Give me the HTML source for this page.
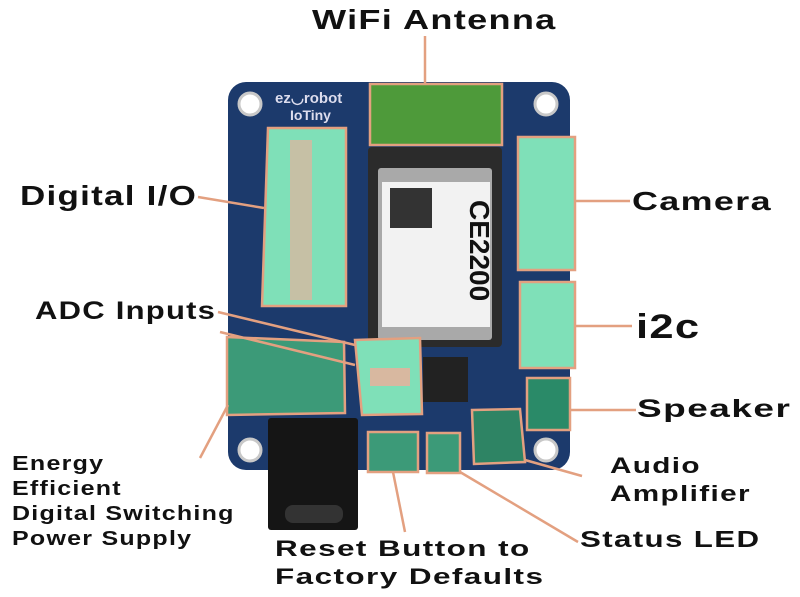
<!DOCTYPE html>
<html><head><style>
body{margin:0;width:800px;height:597px;background:#fff;position:relative;overflow:hidden;font-family:"Liberation Sans",sans-serif;}
.t{position:absolute;font-weight:bold;color:#111;white-space:nowrap;letter-spacing:1px;transform-origin:0 0}
</style></head><body>
<svg width="800" height="597" style="position:absolute;left:0;top:0">
<rect x="228" y="82" width="342" height="388" rx="18" fill="#1c3a6c"/>
<circle cx="250" cy="104" r="11" fill="#fff" stroke="#c8c8c8" stroke-width="3"/>
<circle cx="546" cy="104" r="11" fill="#fff" stroke="#c8c8c8" stroke-width="3"/>
<circle cx="250" cy="450" r="11" fill="#fff" stroke="#c8c8c8" stroke-width="3"/>
<circle cx="546" cy="450" r="11" fill="#fff" stroke="#c8c8c8" stroke-width="3"/>
<rect x="368" y="147" width="134" height="200" rx="4" fill="#2b2b2b"/>
<rect x="378" y="168" width="114" height="172" rx="3" fill="#a9a9a9"/>
<rect x="382" y="182" width="108" height="145" fill="#f2f2f2"/>
<rect x="390" y="188" width="42" height="40" fill="#333"/>
<text x="470" y="200" transform="rotate(90 470 200)" font-family="Liberation Sans" font-size="28" font-weight="bold" fill="#111">CE2200</text>
<rect x="268" y="418" width="90" height="112" rx="3" fill="#151515"/>
<rect x="285" y="505" width="58" height="18" rx="8" fill="#333"/>
<text x="275" y="103" font-size="15" font-weight="bold" fill="#dde">ez◡robot</text>
<text x="290" y="120" font-size="14" font-weight="bold" fill="#dde">IoTiny</text>
<rect x="423" y="357" width="45" height="45" fill="#222"/>
<rect x="475" y="412" width="45" height="50" fill="#1e5a4a"/>
<g fill="#7fe0b8" stroke="#e3a080" stroke-width="2.5">
<rect x="370" y="84" width="132" height="61" fill="#4e9a3a"/>
<polygon points="268,128 346,128 346,306 262,306"/>
<rect x="518" y="137" width="57" height="133"/>
<rect x="520" y="282" width="55" height="86"/>
<rect x="527" y="378" width="43" height="52" fill="#2a8a68"/>
<polygon points="355,340 420,338 422,414 362,415"/>
<polygon points="227,337 344,342 345,413 227,415" fill="#3c9a78"/>
<rect x="368" y="432" width="50" height="40" fill="#3c9a78"/>
<rect x="427" y="433" width="33" height="40" fill="#3c9a78"/>
<polygon points="472,410 520,409 525,462 474,464" fill="#2e8464"/>
</g>
<g fill="#d8b8a0">
<rect x="290" y="140" width="22" height="160" opacity="0.8"/>
<rect x="370" y="368" width="40" height="18"/>
</g>
<g stroke="#e3a080" stroke-width="2.5" fill="none">
<line x1="425" y1="36" x2="425" y2="84"/>
<line x1="198" y1="197" x2="264" y2="208"/>
<line x1="575" y1="201" x2="630" y2="201"/>
<line x1="575" y1="326" x2="632" y2="326"/>
<line x1="570" y1="410" x2="636" y2="410"/>
<line x1="218" y1="312" x2="355" y2="345"/>
<line x1="220" y1="332" x2="355" y2="365"/>
<line x1="228" y1="405" x2="200" y2="458"/>
<line x1="393" y1="472" x2="405" y2="532"/>
<line x1="460" y1="472" x2="578" y2="542"/>
<line x1="525" y1="460" x2="582" y2="476"/>
</g>
</svg>
<div class="t" style="left:312px;top:4px;font-size:28px;transform:scaleX(1.29)">WiFi Antenna</div>
<div class="t" style="left:20px;top:180px;font-size:28px;transform:scaleX(1.25)">Digital I/O</div>
<div class="t" style="left:632px;top:186px;font-size:26px;transform:scaleX(1.38)">Camera</div>
<div class="t" style="left:35px;top:297px;font-size:25px;transform:scaleX(1.24)">ADC Inputs</div>
<div class="t" style="left:636px;top:308px;font-size:34px;transform:scaleX(1.28)">i2c</div>
<div class="t" style="left:637px;top:395px;font-size:25px;transform:scaleX(1.48)">Speaker</div>
<div class="t" style="left:12px;top:452px;font-size:20px;line-height:25px;transform:scaleX(1.25)">Energy<br>Efficient<br>Digital Switching<br>Power Supply</div>
<div class="t" style="left:610px;top:452px;font-size:22px;line-height:28px;transform:scaleX(1.35)">Audio<br>Amplifier</div>
<div class="t" style="left:580px;top:526px;font-size:23px;transform:scaleX(1.36)">Status LED</div>
<div class="t" style="left:275px;top:535px;font-size:22px;line-height:28px;transform:scaleX(1.43)">Reset Button to<br>Factory Defaults</div>
</body></html>
